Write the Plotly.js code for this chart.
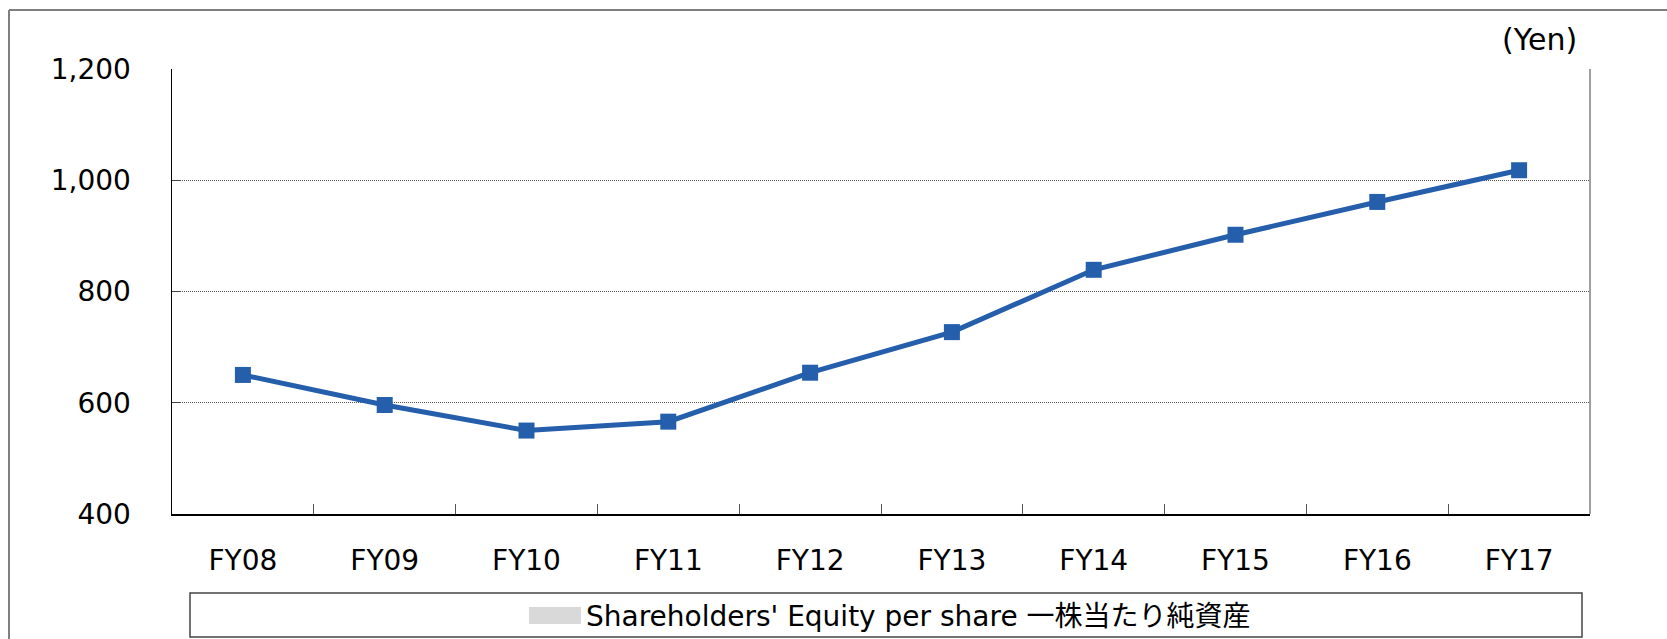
<!DOCTYPE html>
<html>
<head>
<meta charset="utf-8">
<script src="https://cdn.plot.ly/plotly-3.0.1.min.js"></script>
<style>
  html, body { margin: 0; padding: 0; background: #fff; }
  #chart { width: 1667px; height: 639px; }
</style>
</head>
<body>
<div id="chart"></div>
<script>
const categories = ["FY08", "FY09", "FY10", "FY11", "FY12", "FY13", "FY14", "FY15", "FY16", "FY17"];
const equityPerShare = [650, 596, 550, 566, 654, 727, 839, 902, 961, 1018];
const seriesName = "Shareholders' Equity per share 一株当たり純資産";
const unitLabel = "(Yen)";
const yTickValues = [400, 600, 800, 1000, 1200];

const W = 1667, H = 639;
const L = 172, R = 1590, T = 69, B = 514;
const pw = R - L, ph = B - T;
const px = v => (v - L) / pw;
const py = v => (B - v) / ph;

const lineColor = "#255EAB";
const fam = "DejaVu Sans, 'Noto Sans CJK JP', sans-serif";
const font = { family: fam, size: 28, color: "#000" };

const trace = {
  type: "scatter",
  mode: "lines+markers",
  x: categories,
  y: equityPerShare,
  name: seriesName,
  line: { color: lineColor, width: 5 },
  marker: { symbol: "square", size: 16, color: lineColor, line: { width: 0 } },
  hoverinfo: "x+y"
};

const layout = {
  width: W, height: H,
  margin: { l: L, r: W - R, t: T, b: H - B, pad: 0 },
  paper_bgcolor: "#fff",
  plot_bgcolor: "#fff",
  showlegend: false,
  font: font,
  xaxis: {
    type: "category",
    range: [-0.5, categories.length - 0.5],
    showgrid: false,
    showline: true, linecolor: "#000", linewidth: 1.5,
    ticks: "inside", tickson: "boundaries", ticklen: 10, tickcolor: "#555", tickwidth: 1,
    ticklabelstandoff: 21,
    tickfont: font,
    zeroline: false
  },
  yaxis: {
    range: [400, 1200],
    tickvals: yTickValues,
    tickformat: ",",
    showgrid: true, gridcolor: "#555", gridwidth: 1, griddash: "1px,1px",
    showline: true, linecolor: "#000", linewidth: 1.5,
    ticks: "inside", ticklen: 9, tickcolor: "#444", tickwidth: 1,
    ticklabelstandoff: 34,
    tickfont: font,
    zeroline: false
  },
  shapes: [
    { type: "line", xref: "paper", yref: "paper", x0: 1, x1: 1, y0: 0, y1: 1,
      line: { color: "#808080", width: 1.5 } },
    { type: "line", xref: "paper", yref: "paper", x0: px(9), x1: px(1700), y0: py(10), y1: py(10),
      line: { color: "#7f7f7f", width: 2 } },
    { type: "line", xref: "paper", yref: "paper", x0: px(9), x1: px(9), y0: py(10), y1: py(660),
      line: { color: "#7f7f7f", width: 2 } },
    { type: "rect", xref: "paper", yref: "paper", x0: px(190), x1: px(1582), y0: py(637), y1: py(593),
      line: { color: "#444", width: 1.5 }, fillcolor: "rgba(0,0,0,0)" },
    { type: "rect", xref: "paper", yref: "paper", x0: px(529), x1: px(581), y0: py(624), y1: py(607),
      line: { width: 0 }, fillcolor: "#d9d9d9" }
  ],
  annotations: [
    { xref: "paper", yref: "paper", x: px(1579), y: py(40), xanchor: "right", yanchor: "middle",
      text: unitLabel, showarrow: false, font: { family: fam, size: 30, color: "#000" } },
    { xref: "paper", yref: "paper", x: px(584), y: py(616), xanchor: "left", yanchor: "middle",
      text: seriesName, showarrow: false,
      font: { family: fam, size: 28, color: "#000" } }
  ]
};

Plotly.newPlot("chart", [trace], layout, { displayModeBar: false, staticPlot: true });
</script>
</body>
</html>
